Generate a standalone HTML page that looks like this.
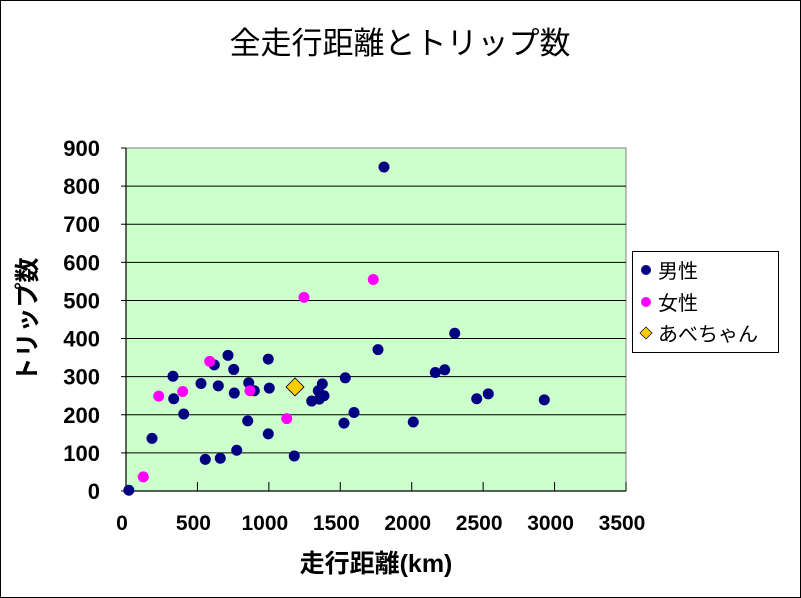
<!DOCTYPE html>
<html><head><meta charset="utf-8">
<style>
html,body{margin:0;padding:0;background:#fff;}
svg{display:block;font-family:"Liberation Sans","Noto Sans CJK JP",sans-serif;}
</style></head>
<body>
<svg id="chart" width="801" height="598" xmlns="http://www.w3.org/2000/svg">
<rect x="0.5" y="0.5" width="800" height="597" fill="#fff" stroke="#000"/>
<text x="400" y="54" text-anchor="middle" font-size="31">全走行距離とトリップ数</text>
<rect x="126" y="148" width="500" height="343" fill="#ccffcc" stroke="#808080"/>
<g id="grid"></g>
<g id="axes"></g>
<g id="marks"></g>
<text x="376" y="572" text-anchor="middle" font-size="25" font-weight="bold">走行距離(km)</text>
<text transform="translate(36,320) rotate(-90)" text-anchor="middle" font-size="25" font-weight="bold">トリップ数</text>
<g>
<rect x="632.5" y="251.5" width="146" height="101" fill="#fff" stroke="#000"/>
<circle cx="646" cy="270" r="5" fill="#000080"/>
<text x="658" y="278" font-size="20">男性</text>
<circle cx="646" cy="302" r="5" fill="#ff00ff"/>
<text x="658" y="310" font-size="20">女性</text>
<path d="M646,327 L652,333 L646,339 L640,333 Z" fill="#ffcc00" stroke="#000" stroke-width="0.7"/>
<text x="658" y="341" font-size="20">あべちゃん</text>
</g>
</svg>
<script>
const xTicks=[0,500,1000,1500,2000,2500,3000,3500];
const yTicks=[0,100,200,300,400,500,600,700,800,900];
const maleX=[1806,1764,996,714,618,754,329,525,646,758,859,898,1003,334,404,852,996,182,775,555,660,1178,20,1374,1346,1386,1300,1353,1535,1596,1526,2011,2165,2231,2301,2455,2536,2928];
const maleY=[850,371,346,356,331,319,301,282,276,257,284,263,270,242,202,184,150,138,107,83,86,92,2,281,263,250,236,241,297,206,178,181,311,318,414,242,255,239];
const femaleX=[1731,1246,586,229,397,868,1125,121];
const femaleY=[555,508,340,249,261,263,190,37];
const abeX=[1183];
const abeY=[273];
const NS="http://www.w3.org/2000/svg";
const L=126,R=626,T=148,B=491;
const sx=v=>L+(v/3500)*(R-L);
const sy=v=>B-(v/900)*(B-T);
const grid=document.getElementById('grid'),axes=document.getElementById('axes'),marks=document.getElementById('marks');
function mk(tag,attrs,parent){const e=document.createElementNS(NS,tag);for(const k in attrs)e.setAttribute(k,attrs[k]);parent.appendChild(e);return e;}
yTicks.forEach(v=>{
  if(v>0&&v<900){const g=mk('line',{x1:L,x2:R,y1:sy(v),y2:sy(v),stroke:'#000','stroke-width':1},grid);
  
  }
  const tk=mk('line',{x1:L-5,x2:L,y1:sy(v),y2:sy(v),stroke:'#000'},axes);
  
  
  const t=mk('text',{x:L-26,y:sy(v)+8,'text-anchor':'end','font-size':22,'font-weight':'bold'},axes);
  t.textContent=v;
  
  
});
xTicks.forEach(v=>{
  const tk=mk('line',{x1:sx(v),x2:sx(v),y1:B-9,y2:B,stroke:'#000'},axes);
  
  
  const t=mk('text',{x:sx(v)-4,y:B+39,'text-anchor':'middle','font-size':21,'font-weight':'bold'},axes);
  t.textContent=v;
  
  
});
const ax=mk('path',{d:`M${L},${T} L${L},${B} L${R},${B}`,fill:'none',stroke:'#000','stroke-width':1.2},axes);


maleX.forEach((v,i)=>{
  const c=mk('circle',{cx:sx(v),cy:sy(maleY[i]),r:5.5,fill:'#000080'},marks);
  
  
});
femaleX.forEach((v,i)=>{
  const c=mk('circle',{cx:sx(v),cy:sy(femaleY[i]),r:5.5,fill:'#ff00ff'},marks);
  
  
});
abeX.forEach((v,i)=>{
  const x=sx(v),y=sy(abeY[i]);
  const d=mk('path',{d:`M${x},${y-9} L${x+9},${y} L${x},${y+9} L${x-9},${y} Z`,fill:'#ffcc00',stroke:'#000','stroke-width':0.8},marks);
  
  
});
</script>
</body></html>
